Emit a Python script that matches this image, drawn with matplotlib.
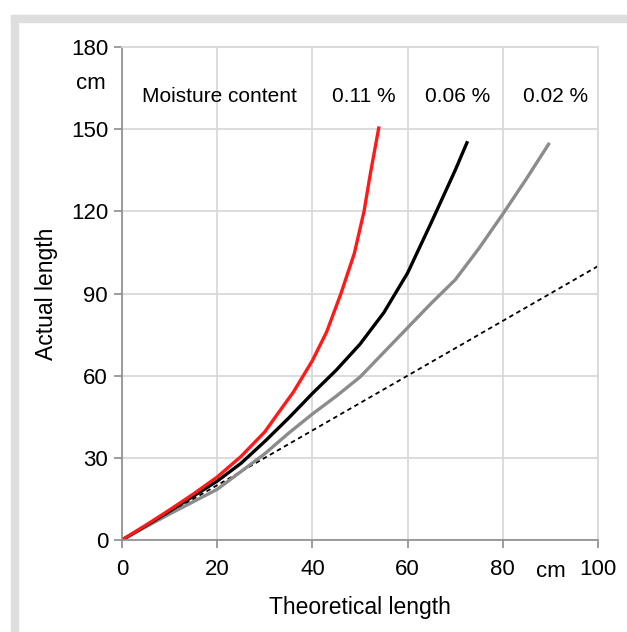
import matplotlib.pyplot as plt
from matplotlib.patches import Rectangle

plt.rcParams['font.family'] = ['Liberation Sans', 'DejaVu Sans']

# (cm)
red_x = [0, 5, 10, 15, 20, 25, 30, 33, 36, 40, 43, 46, 48.8, 50.85, 52.2, 54]
red_y = [0, 5.4, 11, 16.8, 23, 30.5, 39.5, 46.8, 54, 65.5, 76, 90, 104.6, 120, 134, 151]
black_x = [0, 5, 10, 15, 20, 25, 30, 35, 40, 45, 50, 55, 60, 65, 70, 72.6]
black_y = [0, 5.2, 10.5, 16, 21.5, 28, 36, 44.5, 53.5, 62, 71.5, 83, 97.5, 116, 135, 145.6]
gray_x = [0, 5, 10, 15, 20, 25, 30, 35, 40, 45, 50, 55, 60, 65, 70, 75, 80, 85, 89.8]
gray_y = [0, 4.8, 9.5, 14, 18.5, 25, 31.5, 39, 46, 52.5, 59.5, 68.5, 77.5, 86.5, 95, 106.5, 119, 132, 145]
ref_x = [0, 100]
ref_y = [0, 100]

labels = ['0.11 %', '0.06 %', '0.02 %']
label_x = [50.7, 70.6, 91]

fig = plt.figure(figsize=(6.27, 6.32), dpi=100)
# grey frame around the chart area
fig.patches.append(Rectangle((11/627, 0), 7/627, 617/632, transform=fig.transFigure,
                             color='#dedede', zorder=0))
fig.patches.append(Rectangle((11/627, 610/632), 616/627, 7/632, transform=fig.transFigure,
                             color='#dedede', zorder=0))

ax = fig.add_axes([122/627, 92/632, 476/627, 493/632])

ax.plot(ref_x, ref_y, color='black', lw=1.3, ls=(0, (2.5, 2)))
ax.plot(gray_x, gray_y, color='#8c8c8c', lw=2.4, solid_capstyle='butt')
ax.plot(black_x, black_y, color='black', lw=2.4, solid_capstyle='butt')
ax.plot(red_x, red_y, color='#ff1a1a', lw=2.4, solid_capstyle='butt')

ax.set_xlim(0, 100)
ax.set_ylim(0, 180)
ax.set_xticks([0, 20, 40, 60, 80, 100])
ax.set_yticks([0, 30, 60, 90, 120, 150, 180])
ax.grid(True, color='#d9d9d9', lw=1.3)
ax.set_axisbelow(True)
for s in ['top', 'right']:
    ax.spines[s].set_color('#d9d9d9')
    ax.spines[s].set_linewidth(1.3)
for s in ['left', 'bottom']:
    ax.spines[s].set_color('#8c8c8c')
    ax.spines[s].set_linewidth(1.2)
ax.tick_params(colors='#8c8c8c', labelcolor='black', labelsize=16, length=6, width=1.2)
ax.tick_params(axis='y', pad=4)
ax.tick_params(axis='x', pad=8)

ax.set_xlabel('Theoretical length', fontsize=16.5, labelpad=11)
ax.set_ylabel('Actual length', fontsize=16.5, labelpad=9)

ax.text(-3.5, 166.5, 'cm', fontsize=16, ha='right', va='center')
ax.text(90, -11.5, 'cm', fontsize=16, ha='center', va='center')

ax.text(20.4, 162, 'Moisture content', fontsize=15, ha='center', va='center')
for t, xx in zip(labels, label_x):
    ax.text(xx, 162, t, fontsize=15, ha='center', va='center')

plt.savefig('out.png', dpi=100)
